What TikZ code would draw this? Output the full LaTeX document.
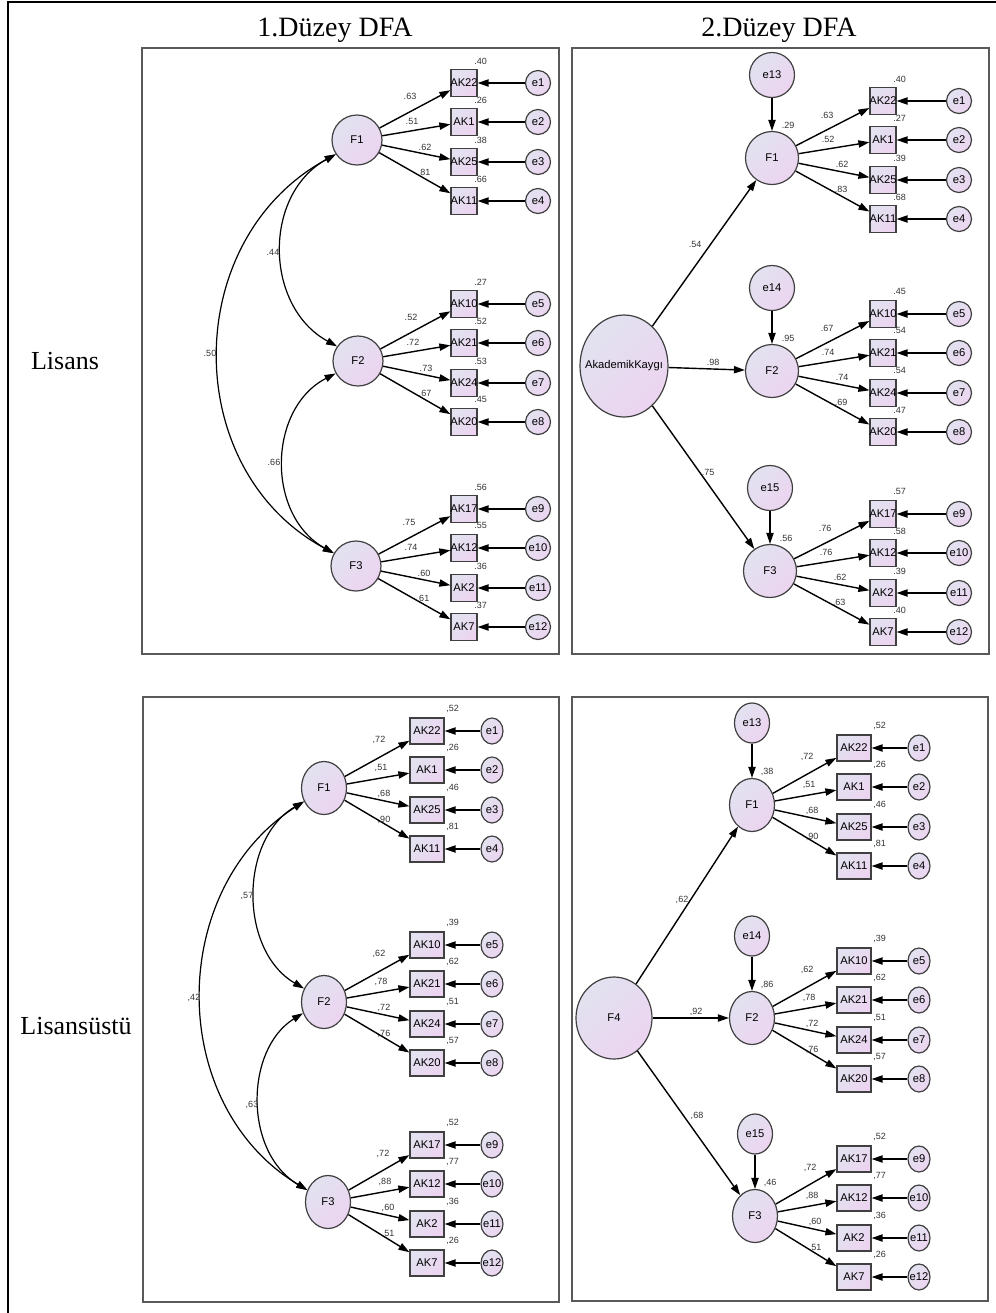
\documentclass[tikz,border=0pt]{standalone}
\usepackage{fontspec}
\setmainfont{Liberation Serif}
\newfontfamily\amosfont{Liberation Sans}
\usepackage{tikz}
\usetikzlibrary{positioning,arrows.meta,shapes.geometric,calc}
\definecolor{lavtop}{RGB}{226,226,240}
\definecolor{lavbot}{RGB}{236,212,240}
\newcommand{\zw}[1]{\makebox[0pt]{#1}}

\begin{document}
\begin{tikzpicture}[x=0.5pt, y=-0.5pt,
  lat/.style={circle, draw=black!75, line width=0.6pt, top color=lavtop,
              bottom color=lavbot, shading angle=45, inner sep=0pt,
              font=\amosfont\fontsize{5.6}{6}\selectfont},
  box/.style={lat, rectangle},
  fac/.style={lat, minimum size=25pt},
  dis/.style={lat, minimum size=22.5pt},
  err/.style={lat, minimum size=12.5pt},
  obs/.style={box, minimum width=13pt, minimum height=13.5pt},
  num/.style={font=\amosfont\fontsize{4.5}{5}\selectfont, text=black!80, inner sep=0pt},
  arr/.style={-{Triangle[length=5.5pt,width=3.6pt]}, line width=0.7pt},
  cov/.style={{Triangle[length=5.5pt,width=3.6pt]}-{Triangle[length=5.5pt,width=3.6pt]},
              line width=0.6pt},
  panel/.style={draw=black!65, line width=0.6pt},
  title/.style={font=\fontsize{14}{16}\selectfont},
  group/.style={font=\fontsize{13}{15}\selectfont}
]
  \useasboundingbox (0,0) rectangle (996,1313);
  \draw[line width=1.3pt] (8,1313) -- (8,2) -- (996,2);

  % headings
  \node[title] (t1) at (335,30) {1.Düzey DFA};
  \node[title] (t2) at (779,30) {2.Düzey DFA};
  \node[group] (g1) at (65,361) {Lisans};
  \node[group] (g2) at (76,1026) {Lisansüstü};

  % 1.Düzey DFA, Lisans
  \draw[panel] (142,48) rectangle (559,654);
  \begin{scope}[name prefix=tl-]
    \foreach \f/\fx/\fy/\rows in {%
      F1/357/140/{AK22/e1/.63/.40, AK1/e2/.51/.26, AK25/e3/.62/.38, AK11/e4/.81/.66},
      F2/358/361/{AK10/e5/.52/.27, AK21/e6/.72/.52, AK24/e7/.73/.53, AK20/e8/.67/.45},
      F3/356/566/{AK17/e9/.75/.56, AK12/e10/.74/.55, AK2/e11/.60/.36, AK7/e12/.61/.37}}{
      \node[fac] (\f) at (\fx,\fy) {\f};
      \foreach \ind/\en/\lo/\rr [count=\row] in \rows {
        \pgfmathsetmacro\iy{\fy+{-57,-18,22,61}[\row-1]}
        \pgfmathsetmacro\lx{\fx+{53,55,68,67}[\row-1]}
        \pgfmathsetmacro\ly{\fy+{-44,-19,7,32}[\row-1]}
        \node[obs] (\ind) at (464,\iy) {\zw{\ind}};
        \node[err] (\en) at (538,\iy) {\zw{\en}};
        \draw[arr] (\f) -- (\ind);
        \draw[arr] (\en) -- (\ind);
        \node[num] (w\ind) at (\lx,\ly) {\lo};
        \node[num] (r\ind) at ([shift={(3,-8)}]\ind.north east) {\rr};
      }
    }
    \draw[cov] (F1.214) .. controls +(-73,40) and +(-73,-40) .. (F2.145);
    \draw[cov] (F2.209) .. controls +(-68,35) and +(-68,-38) .. (F3.150);
    \draw[cov] (F1.214) .. controls +(-156,85) and +(-154,-83) .. (F3.150);
    \node[num] (c12) at (273,252) {.44};
    \node[num] (c23) at (274,462) {.66};
    \node[num] (c13) at (210,353) {.50};
  \end{scope}

  % 2.Düzey DFA, Lisans
  \draw[panel] (572,48) rectangle (989,654);
  \begin{scope}[name prefix=tr-, fac/.style={lat, minimum size=26.5pt}]
    \node[lat, ellipse, minimum width=44pt, minimum height=51pt] (G)
      at (624,366) {\zw{AkademikKaygı}};
    \foreach \f/\fx/\fy/\dn/\dv/\rows in {%
      F1/772/158/e13/.29/{AK22/e1/.63/.40, AK1/e2/.52/.27, AK25/e3/.62/.39, AK11/e4/.83/.68},
      F2/772/371/e14/.95/{AK10/e5/.67/.45, AK21/e6/.74/.54, AK24/e7/.74/.54, AK20/e8/.69/.47},
      F3/770/571/e15/.56/{AK17/e9/.76/.57, AK12/e10/.76/.58, AK2/e11/.62/.39, AK7/e12/.63/.40}}{
      \node[fac] (\f) at (\fx,\fy) {\f};
      \node[dis] (\dn) at (\fx,\fy-83) {\zw{\dn}};
      \draw[arr] (\dn) -- (\f);
      \node[num] (v\f) at (\fx+16,\fy-33) {\dv};
      \foreach \ind/\en/\lo/\rr [count=\row] in \rows {
        \pgfmathsetmacro\iy{\fy+{-57,-18,22,61}[\row-1]}
        \pgfmathsetmacro\lx{\fx+{55,56,70,69}[\row-1]}
        \pgfmathsetmacro\ly{\fy+{-43,-19,6,31}[\row-1]}
        \node[obs] (\ind) at (883,\iy) {\zw{\ind}};
        \node[err] (\en) at (959,\iy) {\zw{\en}};
        \draw[arr] (\f) -- (\ind);
        \draw[arr] (\en) -- (\ind);
        \node[num] (w\ind) at (\lx,\ly) {\lo};
        \node[num] (r\ind) at ([shift={(3,-8)}]\ind.north east) {\rr};
      }
    }
    \draw[arr] (G) -- (F1);
    \draw[arr] (G) -- (F2);
    \draw[arr] (G) -- (F3);
    \node[num] (s1) at (695,244) {.54};
    \node[num] (s2) at (713,362) {.98};
    \node[num] (s3) at (708,472) {.75};
  \end{scope}

  % 1.Düzey DFA, Lisansüstü
  \draw[panel] (143,697) rectangle (559,1302);
  \begin{scope}[name prefix=bl-,
      fac/.style={lat, ellipse, minimum width=22.5pt, minimum height=26.5pt},
      err/.style={lat, ellipse, minimum width=11pt, minimum height=13pt},
      obs/.style={box, minimum width=17pt, minimum height=13pt}]
    \foreach \f/\fx/\fy/\rows in {%
      F1/324/788/{AK22/e1/{,72}/{,52}, AK1/e2/{,51}/{,26}, AK25/e3/{,68}/{,46}, AK11/e4/{,90}/{,81}},
      F2/324/1002/{AK10/e5/{,62}/{,39}, AK21/e6/{,78}/{,62}, AK24/e7/{,72}/{,51}, AK20/e8/{,76}/{,57}},
      F3/328/1202/{AK17/e9/{,72}/{,52}, AK12/e10/{,88}/{,77}, AK2/e11/{,60}/{,36}, AK7/e12/{,51}/{,26}}}{
      \node[fac] (\f) at (\fx,\fy) {\f};
      \foreach \ind/\en/\lo/\rr [count=\row] in \rows {
        \pgfmathsetmacro\iy{\fy+{-57,-18,22,61}[\row-1]}
        \pgfmathsetmacro\lx{\fx+{55,57,60,60}[\row-1]}
        \pgfmathsetmacro\ly{\fy+{-48,-20,6,32}[\row-1]}
        \node[obs] (\ind) at (427,\iy) {\zw{\ind}};
        \node[err] (\en) at (492,\iy) {\zw{\en}};
        \draw[arr] (\f) -- (\ind);
        \draw[arr] (\en) -- (\ind);
        \node[num] (w\ind) at (\lx,\ly) {\lo};
        \node[num] (r\ind) at ([shift={(8,-8)}]\ind.north east) {\rr};
      }
    }
    \draw[cov] (F1.214) .. controls +(-65,38) and +(-65,-38) .. (F2.146);
    \draw[cov] (F2.208) .. controls +(-58,36) and +(-64,-38) .. (F3.150);
    \draw[cov] (F1.214) .. controls +(-137,88) and +(-141,-85) .. (F3.150);
    \node[num] (c12) at (247,896) {,57};
    \node[num] (c23) at (252,1105) {,63};
    \node[num] (c13) at (194,998) {,42};
  \end{scope}

  % 2.Düzey DFA, Lisansüstü
  \draw[panel] (572,697) rectangle (988,1301);
  \begin{scope}[name prefix=br-,
      fac/.style={lat, ellipse, minimum width=22.5pt, minimum height=26.5pt},
      dis/.style={lat, ellipse, minimum width=17.5pt, minimum height=20pt},
      err/.style={lat, ellipse, minimum width=11pt, minimum height=13pt},
      obs/.style={box, minimum width=17pt, minimum height=13pt}]
    \node[lat, ellipse, minimum width=38pt, minimum height=41pt] (F4) at (614,1018) {F4};
    \foreach \f/\fx/\fy/\dn/\dv/\rows in {%
      F1/752/805/e13/{,38}/{AK22/e1/{,72}/{,52}, AK1/e2/{,51}/{,26}, AK25/e3/{,68}/{,46}, AK11/e4/{,90}/{,81}},
      F2/752/1018/e14/{,86}/{AK10/e5/{,62}/{,39}, AK21/e6/{,78}/{,62}, AK24/e7/{,72}/{,51}, AK20/e8/{,76}/{,57}},
      F3/755/1216/e15/{,46}/{AK17/e9/{,72}/{,52}, AK12/e10/{,88}/{,77}, AK2/e11/{,60}/{,36}, AK7/e12/{,51}/{,26}}}{
      \node[fac] (\f) at (\fx,\fy) {\f};
      \node[dis] (\dn) at (\fx,\fy-82) {\zw{\dn}};
      \draw[arr] (\dn) -- (\f);
      \node[num] (v\f) at (\fx+15,\fy-33) {\dv};
      \foreach \ind/\en/\lo/\rr [count=\row] in \rows {
        \pgfmathsetmacro\iy{\fy+{-57,-18,22,61}[\row-1]}
        \pgfmathsetmacro\lx{\fx+{55,57,60,60}[\row-1]}
        \pgfmathsetmacro\ly{\fy+{-48,-20,6,32}[\row-1]}
        \node[obs] (\ind) at (854,\iy) {\zw{\ind}};
        \node[err] (\en) at (919,\iy) {\zw{\en}};
        \draw[arr] (\f) -- (\ind);
        \draw[arr] (\en) -- (\ind);
        \node[num] (w\ind) at (\lx,\ly) {\lo};
        \node[num] (r\ind) at ([shift={(8,-8)}]\ind.north east) {\rr};
      }
    }
    \draw[arr] (F4) -- (F1);
    \draw[arr] (F4) -- (F2);
    \draw[arr] (F4) -- (F3);
    \node[num] (s1) at (682,900) {,62};
    \node[num] (s2) at (696,1012) {,92};
    \node[num] (s3) at (697,1116) {,68};
  \end{scope}
\end{tikzpicture}
\end{document}
